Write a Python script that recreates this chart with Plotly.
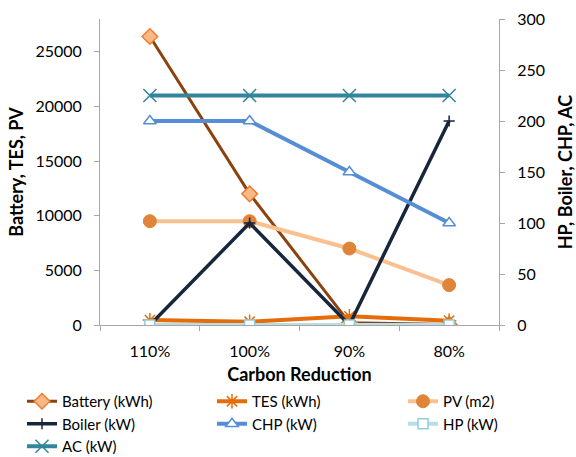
import plotly.graph_objects as go

categories = ["110%", "100%", "90%", "80%"]

battery = [26400, 12000, 200, 50]
tes = [450, 300, 800, 400]
pv = [9500, 9500, 7000, 3650]

boiler = [0, 100, 0, 200]
chp = [200, 200, 150, 100]
hp = [0, 0, 0, 0]
ac = [225, 225, 225, 225]

FONT = "Lato"

fig = go.Figure()

fig.add_trace(go.Scatter(x=categories, y=battery, name="Battery (kWh)", mode="lines+markers",
                         legend="legend",
                         line=dict(color="#8B420E", width=3),
                         marker=dict(symbol="diamond", size=12, color="#F8B987",
                                     line=dict(color="#ED7D31", width=1.5))))
fig.add_trace(go.Scatter(x=categories, y=tes, name="TES (kWh)", mode="lines+markers",
                         legend="legend2",
                         line=dict(color="#E46C0A", width=4),
                         marker=dict(symbol="asterisk-open", size=12, color="#E46C0A",
                                     line=dict(color="#E46C0A", width=1.5))))
fig.add_trace(go.Scatter(x=categories, y=pv, name="PV (m2)", mode="lines+markers",
                         legend="legend3",
                         line=dict(color="#FAC090", width=4),
                         marker=dict(symbol="circle", size=13, color="#E0843A",
                                     line=dict(color="#E0843A", width=1))))

fig.add_trace(go.Scatter(x=categories, y=boiler, name="Boiler (kW)", mode="lines+markers", yaxis="y2",
                         legend="legend",
                         line=dict(color="#17263C", width=3.5),
                         marker=dict(symbol="cross-thin-open", size=8, color="#17263C",
                                     line=dict(color="#17263C", width=1.5))))
fig.add_trace(go.Scatter(x=categories, y=chp, name="CHP (kW)", mode="lines+markers", yaxis="y2",
                         legend="legend2",
                         line=dict(color="#558ED5", width=4),
                         marker=dict(symbol="triangle-up", size=11, color="white",
                                     line=dict(color="#558ED5", width=1.5))))
fig.add_trace(go.Scatter(x=categories, y=hp, name="HP (kW)", mode="lines+markers", yaxis="y2",
                         legend="legend3",
                         line=dict(color="#B7DEE8", width=4),
                         marker=dict(symbol="square", size=10, color="white",
                                     line=dict(color="#93CDDD", width=1.5))))
fig.add_trace(go.Scatter(x=categories, y=ac, name="AC (kW)", mode="lines+markers", yaxis="y2",
                         legend="legend",
                         line=dict(color="#31859C", width=4),
                         marker=dict(symbol="x-thin-open", size=13, color="#31859C",
                                     line=dict(color="#31859C", width=1.5))))

axis_common = dict(showgrid=False, zeroline=False, showline=True, linecolor="#A6A6A6",
                   linewidth=1, ticks="outside", tickcolor="#A6A6A6", ticklen=5,
                   automargin=False,
                   tickfont=dict(family=FONT, size=16, color="#000000"))

PLOT_L, PLOT_W = 100, 399
TITLE_FONT = dict(family=FONT, size=18, color="#000000")


def leg(xpx):
    return dict(orientation="v", xref="paper", yref="container",
                x=(xpx - PLOT_L) / PLOT_W, y=1 - 385 / 457, xanchor="left", yanchor="top",
                font=dict(family=FONT, size=15, color="#000000"), tracegroupgap=0,
                itemwidth=30, bgcolor="rgba(0,0,0,0)", borderwidth=0)


fig.update_layout(
    width=576, height=457,
    paper_bgcolor="white", plot_bgcolor="white",
    margin=dict(l=100, r=77, t=19, b=132),
    font=dict(family=FONT, size=16, color="#000000"),
    xaxis=dict(**axis_common, type="category", range=[-0.5, 3.5], tickson="boundaries",
               ticklabelstandoff=12,
               title=dict(text="<b>Carbon Reduction</b>", font=TITLE_FONT, standoff=20)),
    yaxis=dict(**axis_common, range=[0, 28000], tickvals=[0, 5000, 10000, 15000, 20000, 25000],
               ticktext=["0", "5000", "10000", "15000", "20000", "25000"],
               ticklabelstandoff=9,
               title=dict(text="<b>Battery, TES, PV</b>", font=TITLE_FONT, standoff=7)),
    yaxis2=dict(**axis_common, range=[0, 300], overlaying="y", side="right",
                tickvals=[0, 50, 100, 150, 200, 250, 300],
                ticklabelstandoff=9,
                title=dict(text="<b>HP, Boiler, CHP, AC</b>", font=TITLE_FONT, standoff=15)),
    legend=leg(22),
    legend2=leg(212),
    legend3=leg(403),
    showlegend=True,
)

fig.write_html("out.html", config={"displayModeBar": False},
               post_script="document.body.style.margin='0';")
